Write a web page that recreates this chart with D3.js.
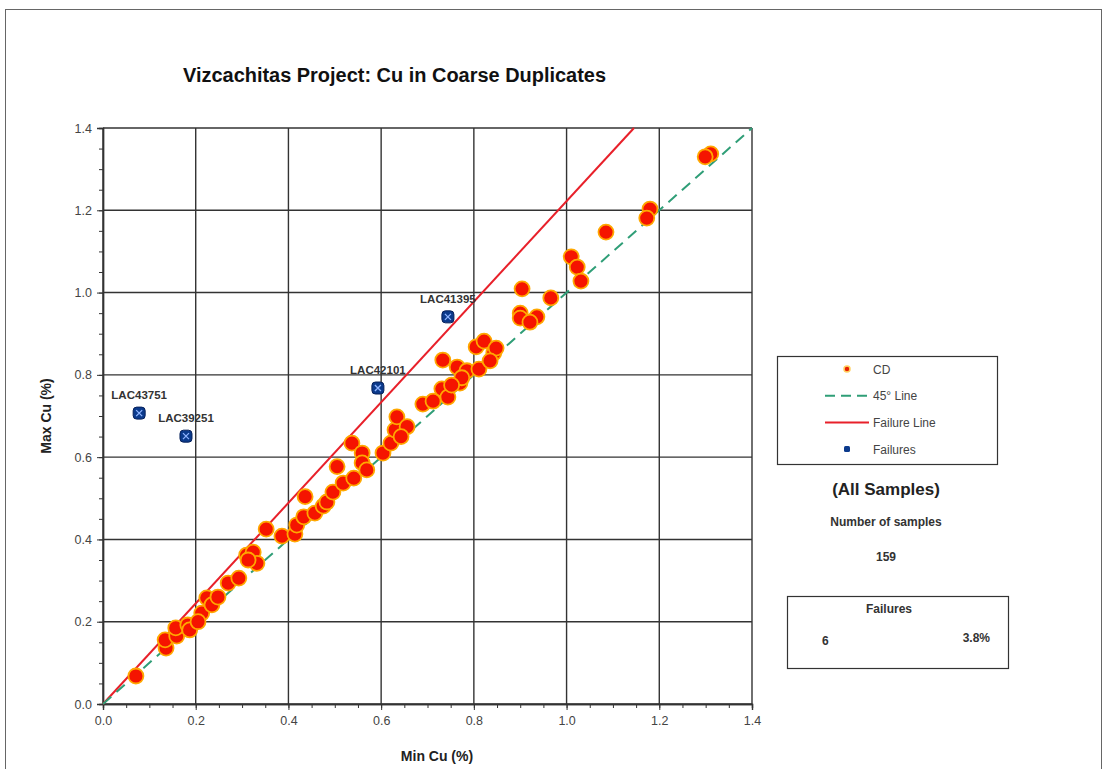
<!DOCTYPE html>
<html>
<head>
<meta charset="utf-8">
<script src="https://cdn.jsdelivr.net/npm/d3@7"></script>
<style>
  body { margin: 0; background: #fff; }
  text { font-family: "Liberation Sans", Arial, sans-serif; }
</style>
</head>
<body>
<script>
const width = 1104;
const height = 769;

// coarse duplicate pairs (min Cu %, max Cu %)
const minCu = [0.071, 0.136, 0.134, 0.159, 0.157, 0.183, 0.187, 0.213, 0.205, 0.224, 0.235, 0.248,
  0.270, 0.293, 0.310, 0.324, 0.332, 0.313, 0.352, 0.386, 0.414, 0.418, 0.436, 0.433, 0.457, 0.475,
  0.483, 0.496, 0.505, 0.518, 0.541, 0.537, 0.559, 0.559, 0.569, 0.604, 0.621, 0.630, 0.634, 0.656,
  0.643, 0.690, 0.712, 0.731, 0.744, 0.733, 0.764, 0.785, 0.770, 0.774, 0.752, 0.811, 0.805, 0.822,
  0.843, 0.848, 0.835, 0.900, 0.900, 0.936, 0.921, 0.904, 0.966, 1.010, 1.023, 1.031, 1.085, 1.180,
  1.173, 1.311, 1.299];
const maxCu = [0.068, 0.136, 0.156, 0.165, 0.185, 0.192, 0.180, 0.221, 0.200, 0.258, 0.241, 0.260,
  0.294, 0.306, 0.362, 0.369, 0.342, 0.350, 0.425, 0.408, 0.413, 0.435, 0.504, 0.455, 0.464, 0.481,
  0.491, 0.515, 0.577, 0.537, 0.549, 0.634, 0.610, 0.586, 0.569, 0.610, 0.634, 0.666, 0.698, 0.674,
  0.650, 0.729, 0.736, 0.766, 0.746, 0.836, 0.819, 0.810, 0.780, 0.793, 0.775, 0.814, 0.868, 0.882,
  0.853, 0.865, 0.834, 0.950, 0.938, 0.941, 0.928, 1.009, 0.987, 1.087, 1.062, 1.028, 1.147, 1.203,
  1.181, 1.337, 1.330];

const failureIds = ["LAC43751", "LAC39251", "LAC42101", "LAC41395"];
const failureMin = [0.078, 0.179, 0.593, 0.744];
const failureMax = [0.707, 0.651, 0.768, 0.941];

const tickValues = [0, 0.2, 0.4, 0.6, 0.8, 1.0, 1.2, 1.4];
const failureSlope = 1.1 / 0.9; // 20% relative difference
const sampleCount = 159;
const failureCount = 6;
const failurePct = "3.8%";

const legendItems = ["CD", "45\u00b0 Line", "Failure Line", "Failures"];

const m = {left: 103, right: 752, top: 128, bottom: 704};

const x = d3.scaleLinear().domain([0, 1.4]).range([m.left, m.right]);
const y = d3.scaleLinear().domain([0, 1.4]).range([m.bottom, m.top]);

const svg = d3.select("body").append("svg")
    .attr("width", width)
    .attr("height", height);

// outer frame
svg.append("rect")
    .attr("x", 5.5).attr("y", 9.5)
    .attr("width", 1096).attr("height", 800)
    .attr("fill", "none")
    .attr("stroke", "#666");

svg.append("text")
    .attr("x", 183).attr("y", 82)
    .attr("font-size", 19.5)
    .attr("font-weight", "bold")
    .attr("fill", "#111")
    .attr("textLength", 423)
    .attr("lengthAdjust", "spacingAndGlyphs")
    .text("Vizcachitas Project: Cu in Coarse Duplicates");

// grid
const grid = svg.append("g")
    .attr("stroke", "#333")
    .attr("stroke-width", 1.4);
grid.selectAll(".gx").data(tickValues).join("line")
    .attr("x1", d => x(d)).attr("x2", d => x(d))
    .attr("y1", m.top).attr("y2", m.bottom);
grid.selectAll(".gy").data(tickValues).join("line")
    .attr("y1", d => y(d)).attr("y2", d => y(d))
    .attr("x1", m.left).attr("x2", m.right);

// axes
const minor = d3.range(0, 1.4001, 0.05);
const xAxis = svg.append("g")
    .attr("transform", `translate(0,${m.bottom})`)
    .call(d3.axisBottom(x).tickValues(minor).tickSize(4).tickFormat(""));
const xLab = svg.append("g")
    .attr("transform", `translate(0,${m.bottom})`)
    .call(d3.axisBottom(x).tickValues(tickValues).tickSize(6).tickPadding(6).tickFormat(d3.format(".1f")));
const yAxis = svg.append("g")
    .attr("transform", `translate(${m.left},0)`)
    .call(d3.axisLeft(y).tickValues(minor).tickSize(4).tickFormat(""));
const yLab = svg.append("g")
    .attr("transform", `translate(${m.left},0)`)
    .call(d3.axisLeft(y).tickValues(tickValues).tickSize(6).tickPadding(5).tickFormat(d3.format(".1f")));
[xAxis, xLab, yAxis, yLab].forEach(g => {
  g.select(".domain").attr("stroke", "#333").attr("stroke-width", 1.4);
  g.selectAll(".tick line").attr("stroke", "#333");
  g.selectAll("text").attr("font-size", 12.5).attr("fill", "#444")
    .attr("font-family", "'Liberation Sans', Arial, sans-serif");
});

svg.append("text")
    .attr("x", 437).attr("y", 761)
    .attr("text-anchor", "middle")
    .attr("font-size", 14).attr("font-weight", "bold").attr("fill", "#222")
    .text("Min Cu (%)");
svg.append("text")
    .attr("transform", "translate(51,416) rotate(-90)")
    .attr("text-anchor", "middle")
    .attr("font-size", 14).attr("font-weight", "bold").attr("fill", "#222")
    .text("Max Cu (%)");

const plot = svg.append("g");

// failure line, clipped at top of plot
const fx = 1.4 / failureSlope;
plot.append("line")
    .attr("x1", x(0)).attr("y1", y(0))
    .attr("x2", x(fx)).attr("y2", y(1.4))
    .attr("stroke", "#e8202a").attr("stroke-width", 2);

// 45 degree line
plot.append("line")
    .attr("x1", x(0)).attr("y1", y(0))
    .attr("x2", x(1.4)).attr("y2", y(1.4))
    .attr("stroke", "#2f9e77").attr("stroke-width", 2)
    .attr("stroke-dasharray", "11,7");

// CD points
plot.append("g").selectAll("circle")
  .data(d3.range(minCu.length))
  .join("circle")
    .attr("cx", i => x(minCu[i]))
    .attr("cy", i => y(maxCu[i]))
    .attr("r", 7.5)
    .attr("fill", "#f51400")
    .attr("stroke", "#ffa800")
    .attr("stroke-width", 1.8);

// failures
const fail = plot.append("g").selectAll("g")
  .data(d3.range(failureIds.length))
  .join("g")
    .attr("transform", i => `translate(${x(failureMin[i])},${y(failureMax[i])})`);
fail.append("rect")
    .attr("x", -6).attr("y", -6).attr("width", 12).attr("height", 12).attr("rx", 3.5)
    .attr("fill", "#0b3a8c").attr("stroke", "#07205a").attr("stroke-width", 1);
fail.append("path")
    .attr("d", "M-3,-3L3,3M3,-3L-3,3")
    .attr("stroke", "#8fb4ff").attr("stroke-width", 1.3);
fail.append("text")
    .attr("y", -14)
    .attr("text-anchor", "middle")
    .attr("font-size", 11.5).attr("font-weight", "bold").attr("fill", "#333")
    .text(i => failureIds[i]);

// legend
const lg = svg.append("g");
lg.append("rect")
    .attr("x", 777.5).attr("y", 356.5).attr("width", 220).attr("height", 108)
    .attr("fill", "#fff").attr("stroke", "#333").attr("stroke-width", 1.2);
const ly = i => 369 + i * 26.7;
lg.selectAll("text").data(legendItems).join("text")
    .attr("x", 873).attr("y", (d, i) => ly(i) + 4.5)
    .attr("font-size", 12).attr("fill", "#444")
    .text(d => d);
lg.append("circle").attr("cx", 847).attr("cy", ly(0)).attr("r", 3)
    .attr("fill", "#e82000").attr("stroke", "#ffd060").attr("stroke-width", 1.5);
lg.append("line").attr("x1", 825).attr("x2", 869).attr("y1", ly(1)).attr("y2", ly(1))
    .attr("stroke", "#2f9e77").attr("stroke-width", 2).attr("stroke-dasharray", "10,6");
lg.append("line").attr("x1", 825).attr("x2", 869).attr("y1", ly(2)).attr("y2", ly(2))
    .attr("stroke", "#e8202a").attr("stroke-width", 2);
lg.append("rect").attr("x", 844).attr("y", ly(3) - 3).attr("width", 6).attr("height", 6).attr("rx", 1.5)
    .attr("fill", "#0b3a8c");

// stats
svg.append("text")
    .attr("x", 886).attr("y", 495)
    .attr("text-anchor", "middle")
    .attr("font-size", 17).attr("font-weight", "bold").attr("fill", "#222")
    .text("(All Samples)");
svg.append("text")
    .attr("x", 886).attr("y", 526)
    .attr("text-anchor", "middle")
    .attr("font-size", 12).attr("font-weight", "bold").attr("fill", "#333")
    .text("Number of samples");
svg.append("text")
    .attr("x", 886).attr("y", 561)
    .attr("text-anchor", "middle")
    .attr("font-size", 12).attr("font-weight", "bold").attr("fill", "#333")
    .text(sampleCount);

svg.append("rect")
    .attr("x", 787.5).attr("y", 596.5).attr("width", 221).attr("height", 72)
    .attr("fill", "#fff").attr("stroke", "#333").attr("stroke-width", 1.2);
svg.append("text")
    .attr("x", 889).attr("y", 613)
    .attr("text-anchor", "middle")
    .attr("font-size", 12).attr("font-weight", "bold").attr("fill", "#333")
    .text("Failures");
svg.append("text")
    .attr("x", 822).attr("y", 645)
    .attr("font-size", 12).attr("font-weight", "bold").attr("fill", "#333")
    .text(failureCount);
svg.append("text")
    .attr("x", 990).attr("y", 642)
    .attr("text-anchor", "end")
    .attr("font-size", 12).attr("font-weight", "bold").attr("fill", "#333")
    .text(failurePct);
</script>
</body>
</html>
